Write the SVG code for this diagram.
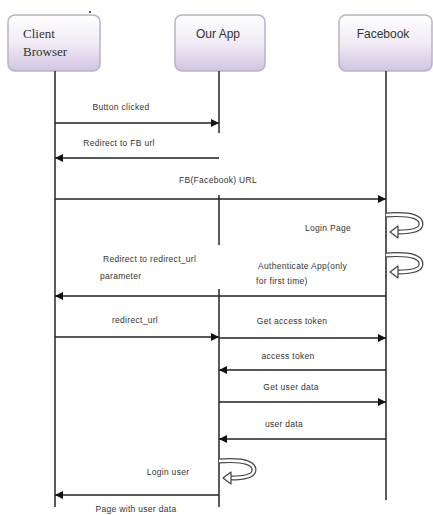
<svg xmlns="http://www.w3.org/2000/svg" width="433" height="515" viewBox="0 0 433 515">
<defs>
<linearGradient id="boxg" x1="0" y1="0" x2="0" y2="1">
<stop offset="0" stop-color="#ffffff"/>
<stop offset="0.5" stop-color="#f0ebf5"/>
<stop offset="1" stop-color="#d2c4e2"/>
</linearGradient>
<marker id="ah" viewBox="0 0 10 10" refX="10" refY="5" markerWidth="9" markerHeight="8" markerUnits="userSpaceOnUse" orient="auto">
<path d="M0,0 L10,5 L0,10 Z" fill="#111"/>
</marker>
<g id="loop">
<path d="M0,3 C30,1 35,7 35,12 C35,18 25,20 12,20" fill="none" stroke="#444" stroke-width="5"/>
<path d="M0,3 C30,1 35,7 35,12 C35,18 25,20 12,20" fill="none" stroke="#fff" stroke-width="2.6"/>
<path d="M4,20 L12,14 L12,26 Z" fill="#fff" stroke="#444" stroke-width="1.2" stroke-linejoin="round"/>
</g>
</defs>
<style>
.box{fill:url(#boxg);stroke:#b9b2c2;stroke-width:1.5}
.life{stroke:#333;stroke-width:1.6;fill:none}
.msg{stroke:#222;stroke-width:1.6;fill:none;marker-end:url(#ah)}
.lbl{font-family:"Liberation Sans",Arial,sans-serif;font-size:8.5px;letter-spacing:0.3px;fill:#333}
.title{font-family:"Liberation Sans",Arial,sans-serif;font-size:12px;fill:#333}
.serif{font-family:"Liberation Serif","Times New Roman",serif;font-size:13px;fill:#333}
</style>
<rect width="433" height="515" fill="#fff"/>

<g id="client">
<rect class="box" x="8" y="15" width="92" height="56" rx="7"/>
<text class="serif" x="23" y="38">Client</text>
<text class="serif" x="23" y="56">Browser</text>
<circle cx="90" cy="12" r="1" fill="#222"/>
</g>
<g id="ourapp">
<rect class="box" x="175" y="15" width="90" height="56" rx="7"/>
<text class="title" x="218" y="38" text-anchor="middle">Our App</text>
</g>
<g id="facebook">
<rect class="box" x="339" y="15" width="93" height="56" rx="7"/>
<text class="title" x="383" y="38" text-anchor="middle">Facebook</text>
</g>

<g id="lifelines">
<line class="life" x1="55" y1="71" x2="55" y2="507"/>
<line class="life" x1="219" y1="71" x2="219" y2="133"/>
<line class="life" x1="219" y1="195" x2="219" y2="245"/>
<line class="life" x1="219" y1="289" x2="219" y2="507"/>
<line class="life" x1="386" y1="71" x2="386" y2="500"/>
</g>

<g id="connectors">
<line class="msg" x1="55" y1="123" x2="219" y2="123"/>
<line class="msg" x1="219" y1="158" x2="55" y2="158"/>
<line class="msg" x1="55" y1="199" x2="386" y2="199"/>
<line class="msg" x1="386" y1="296" x2="55" y2="296"/>
<line class="msg" x1="55" y1="337" x2="219" y2="337"/>
<line class="msg" x1="219" y1="338" x2="386" y2="338"/>
<line class="msg" x1="386" y1="370" x2="219" y2="370"/>
<line class="msg" x1="219" y1="402" x2="386" y2="402"/>
<line class="msg" x1="386" y1="439" x2="219" y2="439"/>
<line class="msg" x1="219" y1="495" x2="55" y2="495"/>
<use href="#loop" x="386" y="212"/>
<use href="#loop" x="386" y="252"/>
<use href="#loop" x="219" y="458"/>
</g>

<g id="labels">
<text class="lbl" x="121" y="110" text-anchor="middle">Button clicked</text>
<text class="lbl" x="119" y="146" text-anchor="middle">Redirect to FB  url</text>
<text class="lbl" x="218" y="183" text-anchor="middle">FB(Facebook)  URL</text>
<text class="lbl" x="328" y="231" text-anchor="middle">Login Page</text>
<text class="lbl" x="258" y="269">Authenticate App(only</text>
<text class="lbl" x="256" y="284">for first time)</text>
<text class="lbl" x="103" y="262">Redirect to redirect_url</text>
<text class="lbl" x="100" y="279">parameter</text>
<text class="lbl" x="135" y="323" text-anchor="middle">redirect_url</text>
<text class="lbl" x="292" y="324" text-anchor="middle">Get access  token</text>
<text class="lbl" x="288" y="359" text-anchor="middle">access  token</text>
<text class="lbl" x="291" y="390" text-anchor="middle">Get user data</text>
<text class="lbl" x="284" y="427" text-anchor="middle">user data</text>
<text class="lbl" x="168" y="475" text-anchor="middle">Login user</text>
<text class="lbl" x="136" y="512" text-anchor="middle">Page with user data</text>
</g>
</svg>
